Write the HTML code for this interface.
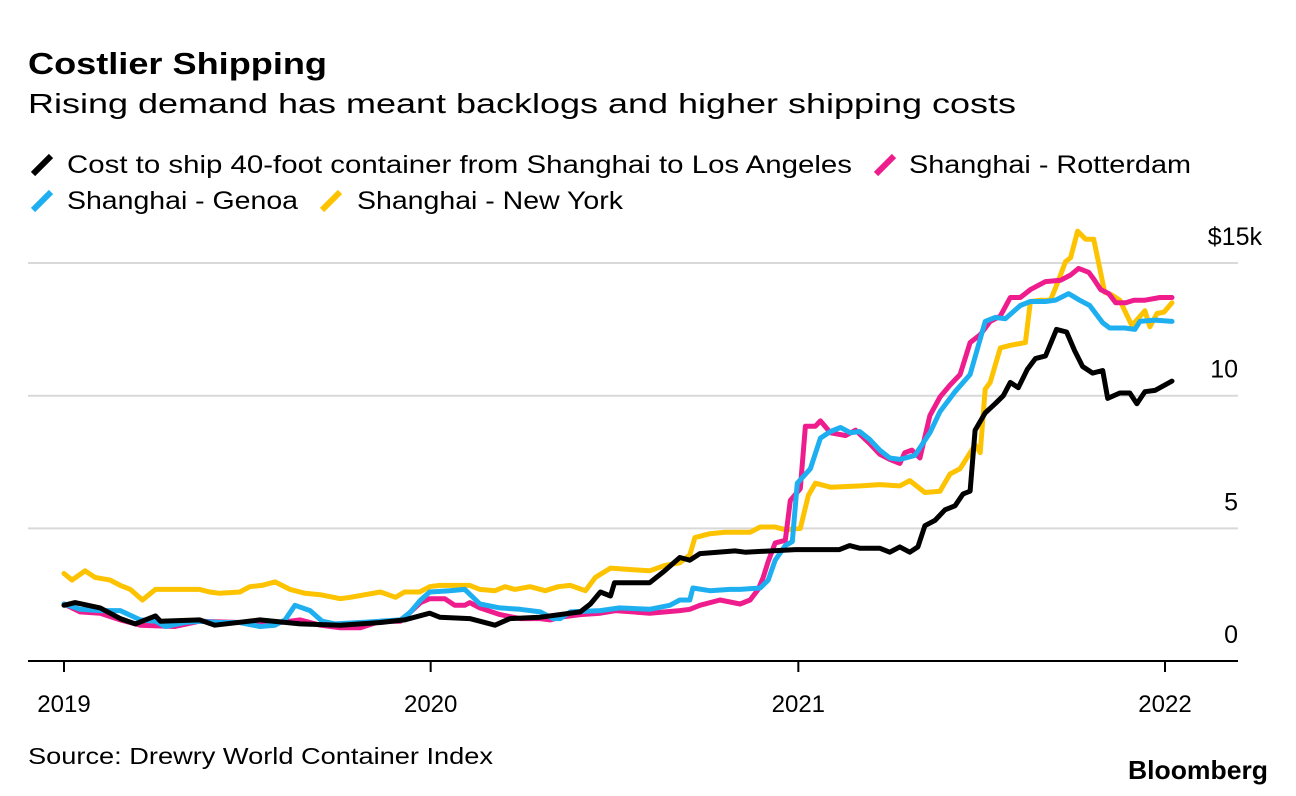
<!DOCTYPE html>
<html><head><meta charset="utf-8"><style>
html,body{margin:0;padding:0;background:#fff;}
svg{display:block;font-family:"Liberation Sans",Arial,sans-serif;}
</style></head><body>
<svg id="chart" width="1296" height="796" viewBox="0 0 1296 796" xmlns="http://www.w3.org/2000/svg">
<text x="28" y="74" font-size="31" font-weight="bold" textLength="299" lengthAdjust="spacingAndGlyphs">Costlier Shipping</text>
<text x="28" y="113" font-size="28" textLength="988" lengthAdjust="spacingAndGlyphs">Rising demand has meant backlogs and higher shipping costs</text>
<g>
 <g><line x1="33" y1="174" x2="51" y2="156" stroke="#000" stroke-width="6"/><text x="67" y="173" font-size="25" textLength="785" lengthAdjust="spacingAndGlyphs">Cost to ship 40-foot container from Shanghai to Los Angeles</text></g>
 <g><line x1="876" y1="174" x2="894" y2="156" stroke="#ee1c8c" stroke-width="6"/><text x="909" y="173" font-size="25" textLength="282" lengthAdjust="spacingAndGlyphs">Shanghai - Rotterdam</text></g>
 <g><line x1="33" y1="210" x2="51" y2="192" stroke="#1eaff0" stroke-width="6"/><text x="67" y="209" font-size="25" textLength="231" lengthAdjust="spacingAndGlyphs">Shanghai - Genoa</text></g>
 <g><line x1="322" y1="210" x2="340" y2="192" stroke="#fdc300" stroke-width="6"/><text x="357" y="209" font-size="25" textLength="266" lengthAdjust="spacingAndGlyphs">Shanghai - New York</text></g>
</g>
<g id="grid"></g>
<g id="series"></g>
<g id="xaxis"></g>
<text x="28" y="764" font-size="23" textLength="465" lengthAdjust="spacingAndGlyphs">Source: Drewry World Container Index</text>
<text x="1268" y="779" font-size="26" font-weight="bold" text-anchor="end" textLength="140" lengthAdjust="spacingAndGlyphs">Bloomberg</text>
</svg>
<script>
const yTicks = [0, 5, 10, 15];
const yTickLabels = ["0", "5", "10", "$15k"];
const xTickDays = [0, 365, 731, 1096];
const xTickLabels = ["2019", "2020", "2021", "2022"];
const losAngeles = [[0,2.1],[11,2.2],[36,2.0],[56,1.6],[71,1.4],[91,1.7],[96,1.5],[135,1.55],[150,1.35],[195,1.55],[235,1.4],[275,1.35],[315,1.45],[339,1.55],[364,1.8],[374,1.65],[404,1.6],[429,1.35],[444,1.6],[474,1.65],[514,1.85],[524,2.15],[534,2.6],[544,2.45],[548,2.95],[583,2.95],[598,3.4],[613,3.9],[623,3.8],[633,4.05],[668,4.15],[678,4.1],[728,4.2],[772,4.2],[782,4.35],[792,4.25],[812,4.25],[822,4.1],[832,4.3],[842,4.1],[850,4.3],[857,5.1],[867,5.3],[877,5.7],[887,5.85],[895,6.3],[902,6.4],[907,8.7],[917,9.35],[927,9.7],[935,10.0],[942,10.5],[950,10.3],[959,11.0],[967,11.4],[977,11.5],[988,12.5],[998,12.4],[1006,11.7],[1014,11.1],[1024,10.85],[1034,10.95],[1039,9.9],[1051,10.1],[1061,10.1],[1068,9.7],[1076,10.15],[1086,10.2],[1103,10.55]];
const rotterdam = [[0,2.15],[16,1.85],[36,1.8],[56,1.55],[76,1.35],[110,1.3],[135,1.5],[175,1.45],[195,1.35],[235,1.55],[255,1.35],[275,1.25],[295,1.25],[315,1.5],[335,1.5],[345,1.85],[355,2.2],[364,2.35],[379,2.35],[389,2.1],[399,2.1],[404,2.2],[414,2.0],[434,1.75],[454,1.6],[474,1.6],[484,1.55],[494,1.65],[514,1.75],[534,1.8],[549,1.9],[583,1.8],[613,1.9],[623,1.95],[633,2.1],[653,2.3],[673,2.15],[683,2.3],[691,2.7],[696,3.15],[701,3.75],[708,4.45],[718,4.55],[723,6.05],[733,6.5],[738,8.85],[748,8.85],[753,9.05],[763,8.6],[778,8.5],[788,8.7],[802,8.2],[812,7.8],[822,7.6],[832,7.45],[837,7.85],[844,7.95],[852,7.65],[862,9.25],[872,9.95],[882,10.4],[892,10.8],[902,12.0],[912,12.3],[922,12.8],[932,13.0],[942,13.7],[952,13.7],[962,14.0],[977,14.3],[992,14.35],[1002,14.55],[1010,14.8],[1020,14.65],[1025,14.4],[1032,14.0],[1040,13.85],[1047,13.5],[1057,13.5],[1065,13.6],[1076,13.6],[1091,13.7],[1103,13.7]];
const genoa = [[0,2.15],[16,1.95],[36,1.9],[56,1.9],[76,1.55],[91,1.5],[101,1.3],[120,1.45],[135,1.5],[155,1.45],[175,1.45],[195,1.3],[210,1.35],[220,1.55],[230,2.1],[245,1.9],[257,1.5],[270,1.4],[295,1.45],[315,1.5],[335,1.55],[345,1.85],[355,2.3],[364,2.6],[384,2.65],[399,2.7],[414,2.15],[434,2.0],[454,1.95],[474,1.85],[487,1.6],[494,1.6],[504,1.85],[534,1.9],[553,2.0],[583,1.95],[603,2.1],[613,2.3],[623,2.3],[626,2.75],[643,2.65],[663,2.7],[673,2.7],[693,2.75],[701,3.05],[708,3.8],[718,4.35],[725,4.5],[730,6.7],[743,7.25],[753,8.4],[763,8.65],[773,8.8],[783,8.6],[792,8.65],[802,8.35],[812,7.95],[822,7.65],[832,7.6],[847,7.75],[862,8.6],[872,9.4],[887,10.15],[902,10.8],[917,12.8],[927,12.95],[937,12.9],[952,13.4],[962,13.55],[977,13.55],[987,13.6],[1000,13.85],[1011,13.6],[1021,13.4],[1034,12.75],[1041,12.55],[1056,12.55],[1066,12.5],[1071,12.8],[1086,12.85],[1103,12.8]];
const newYork = [[0,3.3],[8,3.05],[21,3.4],[31,3.15],[46,3.05],[56,2.85],[66,2.7],[78,2.3],[91,2.7],[135,2.7],[145,2.6],[155,2.55],[175,2.6],[185,2.8],[197,2.85],[210,2.98],[225,2.7],[240,2.55],[255,2.5],[275,2.35],[285,2.4],[315,2.6],[330,2.4],[339,2.6],[354,2.6],[364,2.8],[374,2.85],[404,2.85],[414,2.7],[429,2.65],[439,2.8],[449,2.7],[464,2.8],[479,2.65],[492,2.8],[504,2.85],[519,2.65],[529,3.15],[544,3.5],[563,3.45],[583,3.4],[598,3.6],[613,3.7],[623,4.0],[628,4.65],[643,4.8],[658,4.85],[683,4.85],[693,5.05],[708,5.05],[718,4.95],[733,5.0],[741,6.25],[748,6.7],[763,6.55],[793,6.6],[812,6.65],[832,6.6],[842,6.8],[857,6.35],[872,6.4],[882,7.05],[892,7.25],[907,8.15],[912,7.85],[917,10.25],[922,10.5],[932,11.8],[942,11.9],[957,12.0],[962,13.55],[972,13.6],[982,13.6],[989,14.25],[997,15.05],[1002,15.2],[1009,16.2],[1017,15.9],[1025,15.9],[1036,13.9],[1043,13.8],[1051,13.6],[1063,12.65],[1069,12.9],[1076,13.2],[1081,12.6],[1088,13.1],[1095,13.15],[1103,13.5]];

const NS = "http://www.w3.org/2000/svg";
function xPos(d){ return 64 + d * (1101/1096); }
function yPos(v){ return 661 - v * 26.53; }

const grid = document.getElementById('grid');
yTicks.forEach((t,i)=>{
  if (t !== 0) {
    const l = document.createElementNS(NS,'line');
    l.setAttribute('x1',28); l.setAttribute('x2',1238);
    l.setAttribute('y1',yPos(t)); l.setAttribute('y2',yPos(t));
    l.setAttribute('stroke','#d9d9d9'); l.setAttribute('stroke-width','2');
    
    
    grid.appendChild(l);
  }
  const tx = document.createElementNS(NS,'text');
  const isTop = i === yTicks.length - 1;
  tx.setAttribute('x', isTop ? 1262 : 1238); tx.setAttribute('y',yPos(t)-18);
  tx.setAttribute('text-anchor','end'); tx.setAttribute('font-size','25');
  tx.textContent = yTickLabels[i];
  
  
  grid.appendChild(tx);
});

const series = document.getElementById('series');
const defs = [[newYork,'#fdc300','series-new-york'],[rotterdam,'#ee1c8c','series-rotterdam'],[genoa,'#1eaff0','series-genoa'],[losAngeles,'#000000','series-los-angeles']];
defs.forEach(([data,color,name])=>{
  const p = document.createElementNS(NS,'path');
  p.setAttribute('d', data.map((pt,i)=>(i?'L':'M')+xPos(pt[0]).toFixed(1)+','+yPos(pt[1]).toFixed(1)).join(''));
  p.setAttribute('fill','none'); p.setAttribute('stroke',color);
  p.setAttribute('stroke-width','5'); p.setAttribute('stroke-linejoin','round'); p.setAttribute('stroke-linecap','round');
  
  
  series.appendChild(p);
});

const xaxis = document.getElementById('xaxis');
const base = document.createElementNS(NS,'line');
base.setAttribute('x1',28); base.setAttribute('x2',1238);
base.setAttribute('y1',661); base.setAttribute('y2',661);
base.setAttribute('stroke','#000'); base.setAttribute('stroke-width','2');


xaxis.appendChild(base);
xTickDays.forEach((d,i)=>{
  const tk = document.createElementNS(NS,'line');
  tk.setAttribute('x1',xPos(d)); tk.setAttribute('x2',xPos(d));
  tk.setAttribute('y1',661); tk.setAttribute('y2',672);
  tk.setAttribute('stroke','#000'); tk.setAttribute('stroke-width','2');
  
  
  xaxis.appendChild(tk);
  const tx = document.createElementNS(NS,'text');
  tx.setAttribute('x',xPos(d)); tx.setAttribute('y',712);
  tx.setAttribute('text-anchor','middle'); tx.setAttribute('font-size','24');
  tx.textContent = xTickLabels[i];
  
  
  xaxis.appendChild(tx);
});
</script>
</body></html>
